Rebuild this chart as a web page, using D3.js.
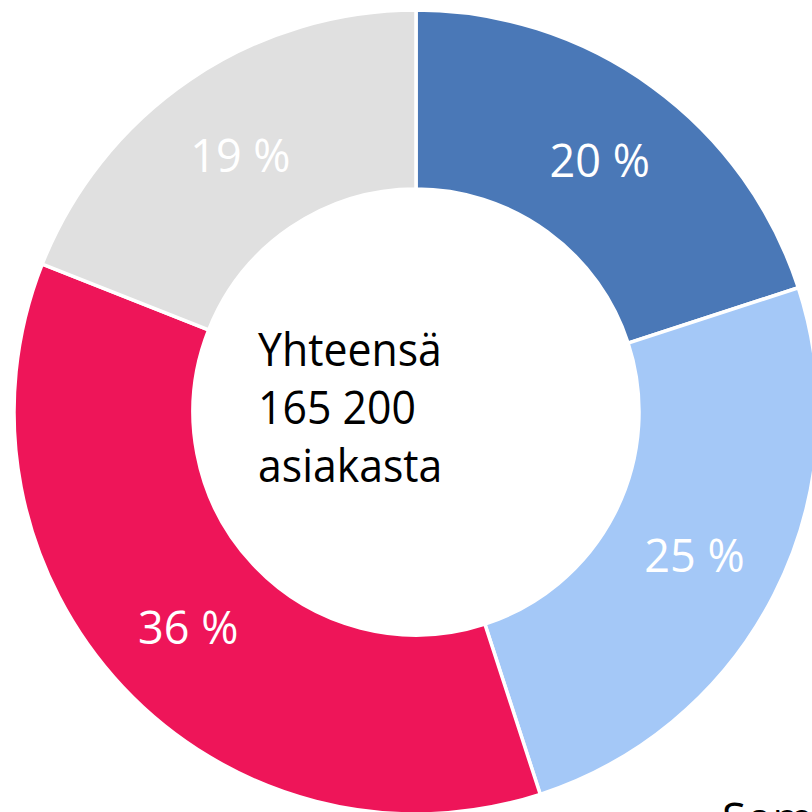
<!DOCTYPE html>
<html><head><meta charset="utf-8">
<script src="https://cdn.jsdelivr.net/npm/d3@7"></script>
<style>html,body{margin:0;padding:0;background:#fff;overflow:hidden}</style>
</head><body>
<svg id="c" width="812" height="812"></svg>
<script>
const categories = ["A", "B", "C", "D"];
const values = [20, 25, 36, 19];
const labels = ["20 %", "25 %", "36 %", "19 %"];
const colors = ["#4A78B7", "#A4C8F7", "#EE1559", "#E0E0E0"];
const centerLines = ["Yhteensä", "165 200", "asiakasta"];

const svg = d3.select("#c");
const cx = 416, cy = 412, rOut = 402, rIn = 223;
const g = svg.append("g").attr("transform", `translate(${cx},${cy})`);
const pie = d3.pie().sort(null).value(d => d)(values);
const arc = d3.arc().innerRadius(rIn).outerRadius(rOut);
const labelArc = d3.arc().innerRadius((rIn + rOut) / 2).outerRadius((rIn + rOut) / 2);
const font = "'Open Sans', 'Noto Sans', sans-serif";

g.selectAll("path").data(pie).join("path")
  .attr("d", arc)
  .attr("fill", (d, i) => colors[i])
  .attr("stroke", "#fff").attr("stroke-width", 3.5);

g.selectAll("text.lbl").data(pie).join("text").attr("class", "lbl")
  .attr("transform", d => { const c = labelArc.centroid(d); return `translate(${c[0]},${c[1] + 2})`; })
  .attr("text-anchor", "middle").attr("dy", "0.36em")
  .attr("font-family", font).attr("font-size", 45)
  .attr("fill", "#fff")
  .text((d, i) => labels[i]);

const ctr = svg.append("g").attr("transform", "translate(258,0) scale(0.93,1)");
ctr.selectAll("text.ctr").data(centerLines).join("text").attr("class", "ctr")
  .attr("x", 0).attr("y", (d, i) => 366 + i * 58)
  .attr("font-family", font).attr("font-size", 46)
  .attr("fill", "#000")
  .text(d => d);

svg.append("text").attr("x", 722).attr("y", 834)
  .attr("font-family", font).attr("font-size", 44).attr("fill", "#000")
  .text("Som");
</script>
</body></html>
